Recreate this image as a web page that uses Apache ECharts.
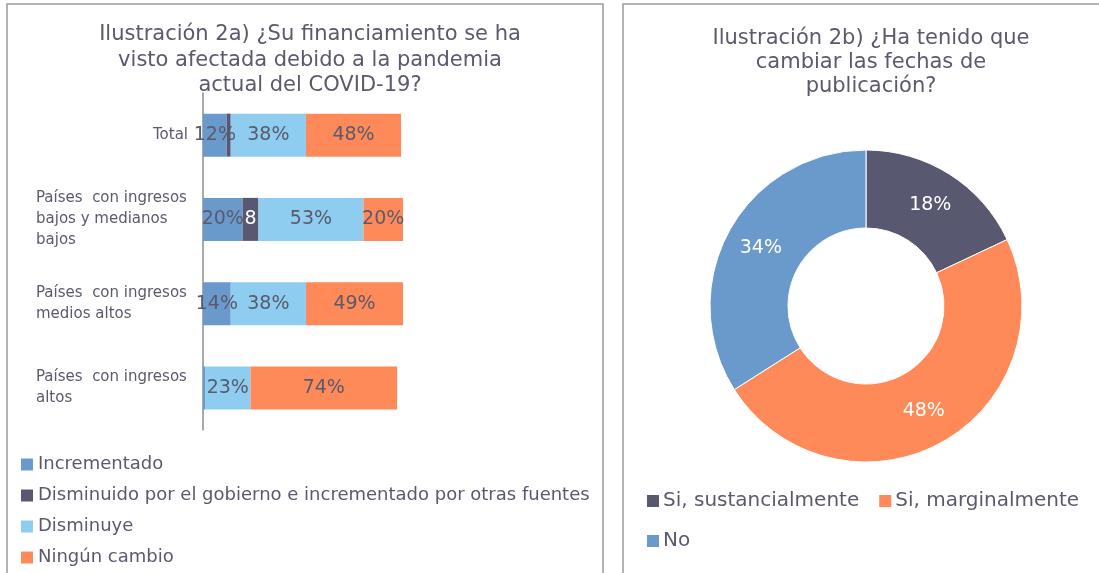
<!DOCTYPE html>
<html>
<head>
<meta charset="utf-8">
<script src="https://cdn.jsdelivr.net/npm/echarts@6/dist/echarts.min.js"></script>
<style>
html,body{margin:0;padding:0;background:#fff;}
#c{width:1099px;height:573px;}
</style>
</head>
<body>
<div id="c"></div>
<script>
// ---- data ----
const barCategories = ['Total', 'Países  con ingresos\nbajos y medianos\nbajos', 'Países  con ingresos\nmedios altos', 'Países  con ingresos\naltos'];
const seriesNames = ['Incrementado', 'Disminuido por el gobierno e incrementado por otras fuentes', 'Disminuye', 'Ningún cambio'];
const incrementado = [12, 20, 14, 1];
const disminuidoGob = [2, 8, 0, 0];
const disminuye = [38, 53, 38, 23];
const ningunCambio = [48, 20, 49, 74];

const pieNames = ['Si, sustancialmente', 'Si, marginalmente', 'No'];
const pieValues = [18, 48, 34];

const titleA = 'Ilustración 2a) ¿Su financiamiento se ha\nvisto afectada debido a la pandemia\nactual del COVID-19?';
const titleB = 'Ilustración 2b) ¿Ha tenido que\ncambiar las fechas de\npublicación?';

// ---- styles ----
const FONT = 'DejaVu Sans';
const TXT = '#5a5a6c';
const C_BLUE = '#6a99cb';
const C_DARK = '#585870';
const C_LIGHT = '#8ecdef';
const C_ORANGE = '#fe8a59';

const chart = echarts.init(document.getElementById('c'), null, {renderer: 'canvas'});

function pctLabel(p) { return p.value >= 5 ? p.value + '%' : ''; }
// the narrow dark segment only has room for the number itself
function numLabel(p) { return p.value >= 5 ? String(p.value) : ''; }

const barSeriesData = [incrementado, disminuidoGob, disminuye, ningunCambio];
const barColors = [C_BLUE, C_DARK, C_LIGHT, C_ORANGE];

const barSeries = barSeriesData.map((d, i) => ({
  type: 'bar',
  name: seriesNames[i],
  stack: 'all',
  data: d,
  barWidth: 43,
  xAxisIndex: 0,
  yAxisIndex: 0,
  itemStyle: {color: barColors[i]},
  emphasis: {disabled: true},
  label: i === 1 ? {
    show: true, position: 'inside', formatter: numLabel,
    color: '#ffffff', fontFamily: FONT, fontSize: 19
  } : {
    show: true, position: 'inside', formatter: pctLabel,
    color: TXT, fontFamily: FONT, fontSize: 19
  }
}));

const option = {
  animation: false,
  backgroundColor: '#ffffff',
  textStyle: {fontFamily: FONT, color: TXT},
  title: [
    {text: titleA, left: 305, top: 17, textAlign: 'center',
     textStyle: {fontFamily: FONT, fontWeight: 'normal', fontSize: 21, color: TXT, lineHeight: 25.5}},
    {text: titleB, left: 866, top: 22, textAlign: 'center',
     textStyle: {fontFamily: FONT, fontWeight: 'normal', fontSize: 21, color: TXT, lineHeight: 24}}
  ],
  legend: [
    {
      data: seriesNames, orient: 'vertical', left: 21, top: 454, height: 140, padding: 0,
      itemWidth: 12, itemHeight: 12, itemGap: 10, icon: 'rect',
      selectedMode: false,
      textStyle: {fontFamily: FONT, fontSize: 18, color: TXT, lineHeight: 21}
    },
    {
      data: pieNames, orient: 'horizontal', left: 640, top: 485, width: 450,
      itemWidth: 14, itemHeight: 14, itemGap: 18, icon: 'rect',
      selectedMode: false,
      textStyle: {fontFamily: FONT, fontSize: 20, color: TXT, padding: [0, 0, 0, -2], lineHeight: 22}
    }
  ],
  graphic: [
    {type: 'rect', shape: {x: 7, y: 4, width: 596, height: 600}, style: {fill: 'none', stroke: '#9a9a9a', lineWidth: 1.5}, silent: true, z: -1},
    {type: 'rect', shape: {x: 623, y: 4, width: 600, height: 600}, style: {fill: 'none', stroke: '#9a9a9a', lineWidth: 1.5}, silent: true, z: -1}
  ],
  grid: [{left: 203, top: 93, width: 202, height: 337, containLabel: false}],
  xAxis: [{
    type: 'value', gridIndex: 0, min: 0, max: 102,
    show: false, splitLine: {show: false}
  }],
  yAxis: [{
    type: 'category', gridIndex: 0, inverse: true, data: barCategories,
    axisLine: {show: true, lineStyle: {color: '#8c8c8c', width: 1.5}},
    axisTick: {show: false},
    axisLabel: {
      margin: 15, align: 'right',
      fontFamily: FONT, fontSize: 15, color: TXT, lineHeight: 21,
      formatter: function (v) {
        if (v.indexOf('\n') < 0) return '{r|' + v + '}';
        return v.split('\n').map(s => '{l|' + s + '}').join('\n');
      },
      rich: {
        l: {width: 152, align: 'left', fontFamily: FONT, fontSize: 15, color: TXT, lineHeight: 21},
        r: {width: 152, align: 'right', fontFamily: FONT, fontSize: 15, color: TXT, lineHeight: 21}
      }
    }
  }],
  series: barSeries.concat([{
    type: 'pie',
    name: 'fechas',
    center: [866, 306],
    radius: [78, 156],
    startAngle: 90,
    clockwise: true,
    avoidLabelOverlap: false,
    emphasis: {disabled: true},
    itemStyle: {borderColor: '#ffffff', borderWidth: 1},
    label: {
      show: true, position: 'inside',
      formatter: p => p.value + '%',
      color: '#ffffff', fontFamily: FONT, fontSize: 19
    },
    labelLine: {show: false},
    data: pieNames.map((n, i) => ({
      name: n, value: pieValues[i],
      itemStyle: {color: [C_DARK, C_ORANGE, C_BLUE][i]}
    }))
  }])
};

chart.setOption(option);
</script>
</body>
</html>
